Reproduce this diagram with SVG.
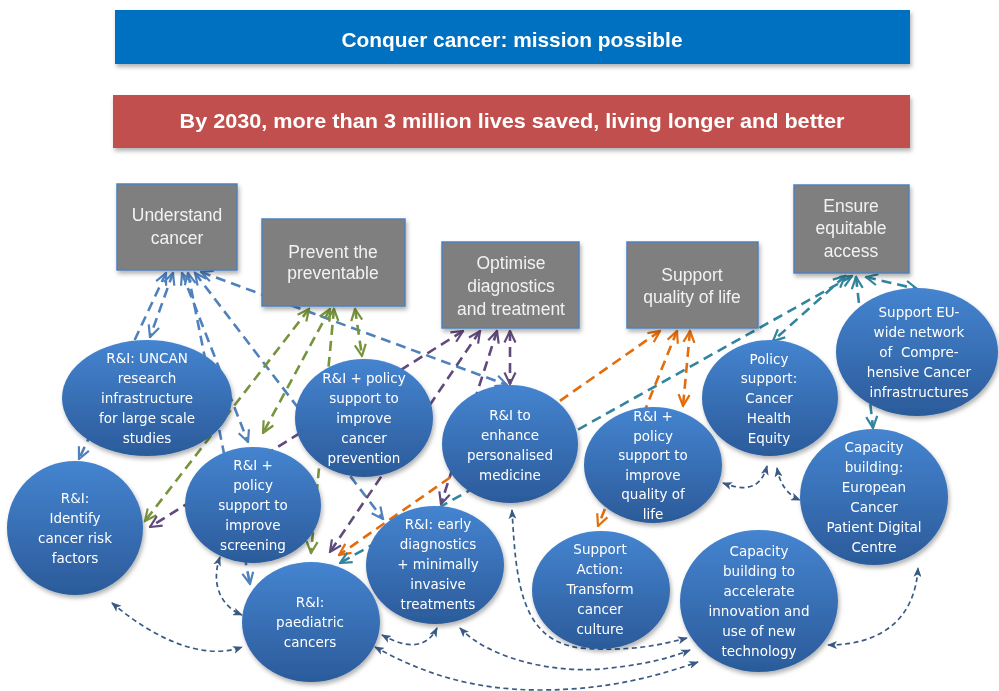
<svg xmlns="http://www.w3.org/2000/svg" width="999" height="691" viewBox="0 0 999 691">
<style>
.ban{font-family:"Liberation Sans",Arial,sans-serif;font-weight:bold;font-size:21px;fill:#fff;text-anchor:middle}
.box rect{fill:#7f7f7f;stroke:#4f81bd;stroke-width:1.5}
.box text{font-family:"Liberation Sans",Arial,sans-serif;font-size:17.5px;fill:#f2f2f2;text-anchor:middle}
.nd ellipse{fill:url(#eg)}
.nd text{font-family:"DejaVu Sans",Verdana,sans-serif;font-size:13.5px;fill:#fff;text-anchor:middle}
.c{fill:none;stroke-width:2.6;stroke-dasharray:10 6}
.bl{stroke:#4f81bd;marker-start:url(#mb);marker-end:url(#mb)}
.gr{stroke:#77933c;marker-start:url(#mg);marker-end:url(#mg)}
.pu{stroke:#604a7b;marker-start:url(#mp);marker-end:url(#mp)}
.or{stroke:#e46c0a;marker-start:url(#mo);marker-end:url(#mo)}
.te{stroke:#31859c;marker-start:url(#mt);marker-end:url(#mt)}
.d{fill:none;stroke:#3a5a84;stroke-width:1.7;stroke-dasharray:5 3.5;marker-start:url(#md);marker-end:url(#md)}
</style>
<defs>
<linearGradient id="eg" x1="0" y1="0" x2="0" y2="1">
<stop offset="0" stop-color="#4584d0"/>
<stop offset="1" stop-color="#2b5b9a"/>
</linearGradient>
<filter id="sh" x="-20%" y="-20%" width="140%" height="140%">
<feDropShadow dx="1.5" dy="3" stdDeviation="2" flood-color="#000" flood-opacity="0.3"/>
</filter>
<marker id="mb" viewBox="0 0 14 14" refX="12.5" refY="7" markerWidth="14" markerHeight="14" markerUnits="userSpaceOnUse" orient="auto-start-reverse"><path d="M1,1.5 L12.5,7 L1,12.5" fill="none" stroke="#4f81bd" stroke-width="2.2"/></marker>
<marker id="mg" viewBox="0 0 14 14" refX="12.5" refY="7" markerWidth="14" markerHeight="14" markerUnits="userSpaceOnUse" orient="auto-start-reverse"><path d="M1,1.5 L12.5,7 L1,12.5" fill="none" stroke="#77933c" stroke-width="2.2"/></marker>
<marker id="mp" viewBox="0 0 14 14" refX="12.5" refY="7" markerWidth="14" markerHeight="14" markerUnits="userSpaceOnUse" orient="auto-start-reverse"><path d="M1,1.5 L12.5,7 L1,12.5" fill="none" stroke="#604a7b" stroke-width="2.2"/></marker>
<marker id="mo" viewBox="0 0 14 14" refX="12.5" refY="7" markerWidth="14" markerHeight="14" markerUnits="userSpaceOnUse" orient="auto-start-reverse"><path d="M1,1.5 L12.5,7 L1,12.5" fill="none" stroke="#e46c0a" stroke-width="2.2"/></marker>
<marker id="mt" viewBox="0 0 14 14" refX="12.5" refY="7" markerWidth="14" markerHeight="14" markerUnits="userSpaceOnUse" orient="auto-start-reverse"><path d="M1,1.5 L12.5,7 L1,12.5" fill="none" stroke="#31859c" stroke-width="2.2"/></marker>
<marker id="md" viewBox="0 0 10 8" refX="9" refY="4" markerWidth="10" markerHeight="8" markerUnits="userSpaceOnUse" orient="auto-start-reverse"><path d="M0,0 L10,4 L0,8 L2.5,4 Z" fill="#3a5a84"/></marker>
</defs>
<rect width="999" height="691" fill="#fff"/>

<g id="banner-mission" filter="url(#sh)">
<rect x="115" y="10" width="795" height="54" fill="#0070c0"/>
<text class="ban" x="512" y="47" textLength="341" lengthAdjust="spacingAndGlyphs">Conquer cancer: mission possible</text>
</g>
<g id="banner-goal" filter="url(#sh)">
<rect x="113" y="95" width="797" height="53" fill="#c0504d"/>
<text class="ban" x="512" y="128" textLength="665" lengthAdjust="spacingAndGlyphs">By 2030, more than 3 million lives saved, living longer and better</text>
</g>

<g id="connectors">
<path class="c bl" d="M173,273 L150,337"/>
<path class="c bl" d="M166,273 L79,459"/>
<path class="c bl" d="M182,273 L248,442"/>
<path class="c bl" d="M188,273 L250,584"/>
<path class="c bl" d="M195,273 L383,519"/>
<path class="c bl" d="M201,272 L507,385"/>
<path class="c gr" d="M309,309 L145,521"/>
<path class="c gr" d="M330,309 L263,433"/>
<path class="c gr" d="M334,309 L311,553"/>
<path class="c gr" d="M355,309 L362,356"/>
<path class="c pu" d="M463,331 L150,527"/>
<path class="c pu" d="M480,331 L330,552"/>
<path class="c pu" d="M497,331 L441,504"/>
<path class="c pu" d="M510,331 L510,384"/>
<path class="c or" d="M660,331 L339,555"/>
<path class="c or" d="M677,331 L598,526"/>
<path class="c or" d="M690,331 L683,406"/>
<path class="c te" d="M852,276 L340,563"/>
<path class="c te" d="M845,276 L773,341"/>
<path class="c te" d="M866,277 L917,289"/>
<path class="c te" d="M856,277 L873,428"/>
<path class="d" d="M112,603 C150,635 200,662 242,647"/>
<path class="d" d="M220,557 C210,585 222,607 242,615"/>
<path class="d" d="M382,635 C402,646 425,652 437,628"/>
<path class="d" d="M375,647 C420,672 470,690 540,690 C610,690 660,675 698,662"/>
<path class="d" d="M460,628 C490,660 560,675 610,668 C650,664 675,656 690,650"/>
<path class="d" d="M512,510 C516,580 520,640 580,648 C630,652 660,645 687,638"/>
<path class="d" d="M723,483 C742,490 760,492 767,466"/>
<path class="d" d="M777,468 C780,485 788,495 800,500"/>
<path class="d" d="M828,645 C880,645 915,620 918,568"/>
</g>

<g id="box-understand" class="box" filter="url(#sh)">
<rect x="117" y="184" width="120" height="86"/>
<text x="177" y="221">Understand</text><text x="177" y="244">cancer</text>
</g>
<g id="box-prevent" class="box" filter="url(#sh)">
<rect x="262" y="219" width="143" height="87"/>
<text x="333" y="258">Prevent the</text><text x="333" y="279">preventable</text>
</g>
<g id="box-optimise" class="box" filter="url(#sh)">
<rect x="442" y="242" width="137" height="86"/>
<text x="511" y="269">Optimise</text><text x="511" y="292">diagnostics</text><text x="511" y="315">and treatment</text>
</g>
<g id="box-quality" class="box" filter="url(#sh)">
<rect x="627" y="242" width="131" height="86"/>
<text x="692" y="281">Support</text><text x="692" y="303">quality of life</text>
</g>
<g id="box-access" class="box" filter="url(#sh)">
<rect x="794" y="185" width="115" height="88"/>
<text x="851" y="212">Ensure</text><text x="851" y="234">equitable</text><text x="851" y="257">access</text>
</g>

<g id="node-uncan" class="nd" filter="url(#sh)">
<ellipse cx="147" cy="398" rx="85" ry="58"/>
<text x="147" y="363">R&amp;I: UNCAN</text><text x="147" y="383">research</text><text x="147" y="403">infrastructure</text><text x="147" y="423">for large scale</text><text x="147" y="443">studies</text>
</g>
<g id="node-risk" class="nd" filter="url(#sh)">
<ellipse cx="75" cy="528" rx="68" ry="67"/>
<text x="75" y="503">R&amp;I:</text><text x="75" y="523">Identify</text><text x="75" y="543">cancer risk</text><text x="75" y="563">factors</text>
</g>
<g id="node-screening" class="nd" filter="url(#sh)">
<ellipse cx="253" cy="505" rx="68" ry="58"/>
<text x="253" y="470">R&amp;I +</text><text x="253" y="490">policy</text><text x="253" y="510">support to</text><text x="253" y="530">improve</text><text x="253" y="550">screening</text>
</g>
<g id="node-prevention" class="nd" filter="url(#sh)">
<ellipse cx="364" cy="418" rx="69" ry="59"/>
<text x="364" y="383">R&amp;I + policy</text><text x="364" y="403">support to</text><text x="364" y="423">improve</text><text x="364" y="443">cancer</text><text x="364" y="463">prevention</text>
</g>
<g id="node-personalised" class="nd" filter="url(#sh)">
<ellipse cx="510" cy="444" rx="68" ry="59"/>
<text x="510" y="420">R&amp;I to</text><text x="510" y="440">enhance</text><text x="510" y="460">personalised</text><text x="510" y="480">medicine</text>
</g>
<g id="node-quality" class="nd" filter="url(#sh)">
<ellipse cx="653" cy="465" rx="69" ry="58"/>
<text x="653" y="421">R&amp;I +</text><text x="653" y="441">policy</text><text x="653" y="460">support to</text><text x="653" y="480">improve</text><text x="653" y="499">quality of</text><text x="653" y="519">life</text>
</g>
<g id="node-equity" class="nd" filter="url(#sh)">
<ellipse cx="770" cy="398" rx="68" ry="58"/>
<text x="769" y="364">Policy</text><text x="769" y="383">support:</text><text x="769" y="403">Cancer</text><text x="769" y="423">Health</text><text x="769" y="443">Equity</text>
</g>
<g id="node-network" class="nd" filter="url(#sh)">
<ellipse cx="917" cy="352" rx="81" ry="64"/>
<text x="919" y="317">Support EU-</text><text x="919" y="337">wide network</text><text x="919" y="357" style="white-space:pre">of  Compre-</text><text x="919" y="377">hensive Cancer</text><text x="919" y="397">infrastructures</text>
</g>
<g id="node-digital" class="nd" filter="url(#sh)">
<ellipse cx="874" cy="497" rx="74" ry="68"/>
<text x="874" y="452">Capacity</text><text x="874" y="472">building:</text><text x="874" y="492">European</text><text x="874" y="512">Cancer</text><text x="874" y="532">Patient Digital</text><text x="874" y="552">Centre</text>
</g>
<g id="node-culture" class="nd" filter="url(#sh)">
<ellipse cx="601" cy="590" rx="69" ry="59"/>
<text x="600" y="554">Support</text><text x="600" y="574">Action:</text><text x="600" y="594">Transform</text><text x="600" y="614">cancer</text><text x="600" y="634">culture</text>
</g>
<g id="node-innovation" class="nd" filter="url(#sh)">
<ellipse cx="759" cy="601" rx="79" ry="71"/>
<text x="759" y="556">Capacity</text><text x="759" y="576">building to</text><text x="759" y="596">accelerate</text><text x="759" y="616">innovation and</text><text x="759" y="636">use of new</text><text x="759" y="656">technology</text>
</g>
<g id="node-early" class="nd" filter="url(#sh)">
<ellipse cx="435" cy="565" rx="69" ry="59"/>
<text x="438" y="529">R&amp;I: early</text><text x="438" y="549">diagnostics</text><text x="438" y="569">+ minimally</text><text x="438" y="589">invasive</text><text x="438" y="609">treatments</text>
</g>
<g id="node-paediatric" class="nd" filter="url(#sh)">
<ellipse cx="311" cy="622" rx="69" ry="60"/>
<text x="310" y="607">R&amp;I:</text><text x="310" y="627">paediatric</text><text x="310" y="647">cancers</text>
</g>
</svg>
